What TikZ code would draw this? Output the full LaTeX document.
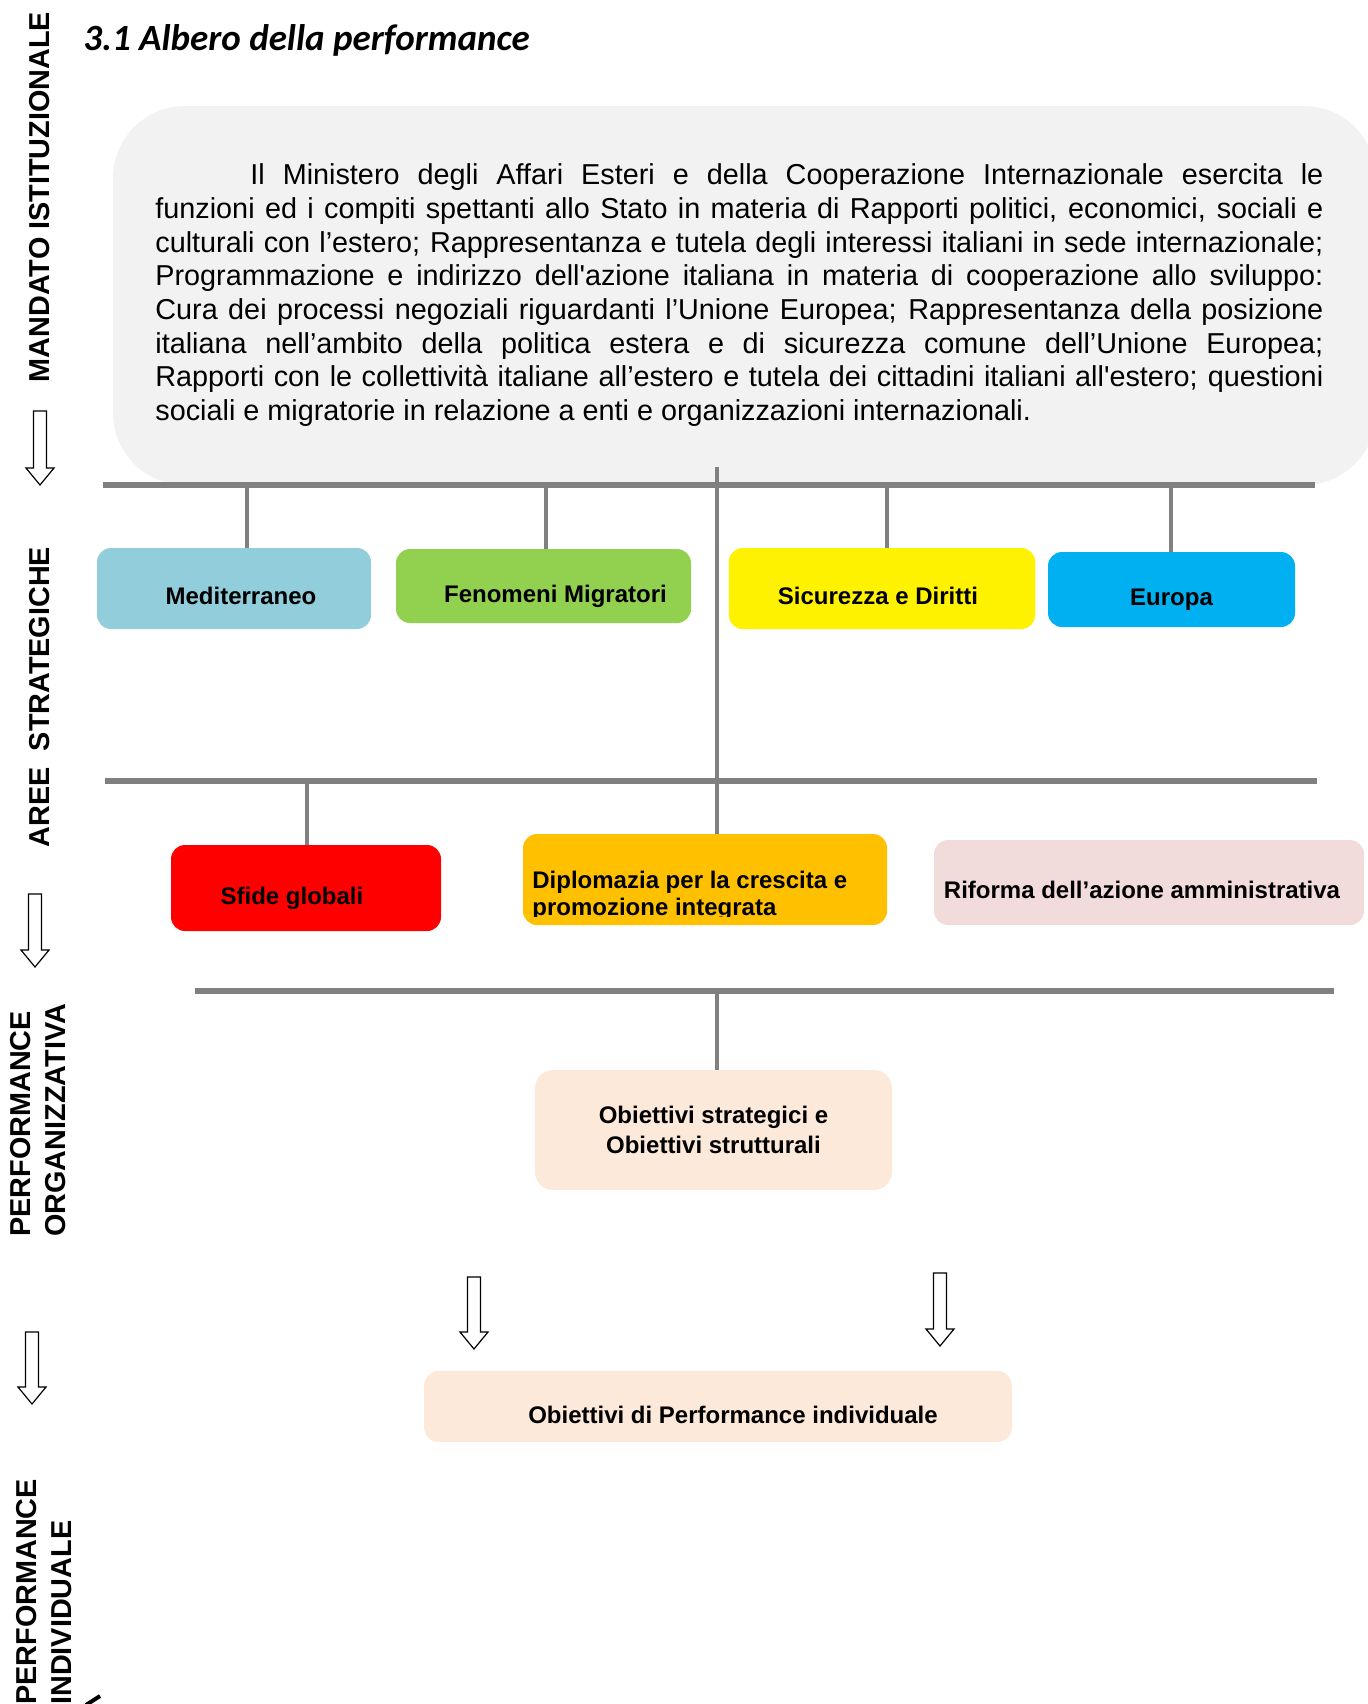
\documentclass[tikz,border=0pt]{standalone}
\usepackage{fontspec}
\setmainfont{Liberation Sans}[Ligatures=TeXOff]
\newfontfamily\titlefont{Carlito}

\definecolor{linegray}{RGB}{128,128,128}
\definecolor{boxgray}{RGB}{242,242,242}
\definecolor{medblue}{RGB}{146,205,220}
\definecolor{migrgreen}{RGB}{146,208,80}
\definecolor{eurblue}{RGB}{0,176,240}
\definecolor{diplorange}{RGB}{255,192,0}
\definecolor{rifpink}{RGB}{242,220,219}
\definecolor{goalpeach}{RGB}{253,233,217}

% outlined block arrow pointing down: x, top, tip
\newcommand{\hollowarrow}[3]{%
	\draw [line width = 0.6pt] (#1-6.5, #2) -- (#1+6.5, #2) -- (#1+6.5, #3-17) -- (#1+14, #3-17)
		-- (#1, #3) -- (#1-14, #3-17) -- (#1-6.5, #3-17) -- cycle;}

\begin{document}
\begin{tikzpicture}[x = 0.5pt, y = -0.5pt,
	bar/.style = {line width = 2.6pt, linegray},
	stub/.style = {line width = 2.2pt, linegray},
	area/.style = {rounded corners = 7pt, inner sep = 0pt, text height = 16pt, text depth = 0pt,
		font = \bfseries\fontsize{12}{14}\selectfont},
	goal/.style = {fill = goalpeach, rounded corners = 9pt, inner sep = 0pt,
		font = \bfseries\fontsize{12}{15}\selectfont},
	side/.style = {rotate = 90, inner sep = 0pt, font = \bfseries\fontsize{14.4}{17.25}\selectfont}]

	\useasboundingbox (0, 0) rectangle (1368, 1704);

	% Title

	\node [anchor = base west, inner sep = 0pt, font = \titlefont\bfseries\itshape\fontsize{18.5}{22}\selectfont]
		(title) at (83, 50) {3.1 Albero della performance};

	% Mandate

	\node [fill = boxgray, rounded corners = 36pt, minimum width = 631.5pt, minimum height = 189.5pt,
		inner sep = 0pt] (mandato) at (744.5, 295.5) {};

	\node [anchor = north west, inner sep = 0pt, text width = 584pt, align = justify,
		font = \fontsize{14.4}{16.85}\selectfont] (mandtxt) at (155, 163.5)
	{\hyphenpenalty = 10000 \hspace*{47.5pt}Il Ministero degli Affari Esteri e della Cooperazione Internazionale esercita le\linebreak
	funzioni ed i compiti spettanti allo Stato in materia di Rapporti politici, economici, sociali e\linebreak
	culturali con l’estero; Rappresentanza e tutela degli interessi italiani in sede internazionale;\linebreak
	Programmazione e indirizzo dell'azione italiana in materia di cooperazione allo sviluppo:\linebreak
	Cura dei processi negoziali riguardanti l’Unione Europea; Rappresentanza della posizione\linebreak
	italiana nell’ambito della politica estera e di sicurezza comune dell’Unione Europea;\linebreak
	Rapporti con le collettività italiane all’estero e tutela dei cittadini italiani all'estero; questioni\linebreak
	sociali e migratorie in relazione a enti e organizzazioni internazionali.};

	% Areas

	\node [area, fill = medblue, minimum width = 137pt, minimum height = 40.5pt] (med) at (234, 588.5) {\hspace*{7pt}Mediterraneo};
	\node [area, fill = migrgreen, minimum width = 147.5pt, minimum height = 37pt] (fen) at (543.5, 586) {\hspace*{12pt}Fenomeni Migratori};
	\node [area, fill = yellow, minimum width = 153.25pt, minimum height = 40.5pt] (sic) at (882, 588.5) {\hspace*{-4pt}Sicurezza e Diritti};
	\node [area, fill = eurblue, minimum width = 123.5pt, minimum height = 37.5pt] (eur) at (1171.5, 589.5) {Europa};

	\node [area, fill = red, minimum width = 135pt, minimum height = 43pt] (sfi) at (306, 888) {\hspace*{-14pt}Sfide globali};
	\node [area, fill = diplorange, minimum width = 182pt, minimum height = 45.5pt] (dip) at (705, 879.5) {};
	\node [area, fill = rifpink, minimum width = 215pt, minimum height = 42.5pt] (rif) at (1149, 882.5) {\hspace*{-7pt}Riforma dell’azione amministrativa};

	\begin{scope}
		\clip (523, 834) rectangle (887, 916);
		\node [anchor = north west, inner sep = 0pt, align = left, font = \bfseries\fontsize{12}{13.5}\selectfont]
			(diptxt) at (532, 871) {Diplomazia per la crescita e\\promozione integrata};
	\end{scope}

	% Goals

	\node [goal, align = center, minimum width = 178.5pt, minimum height = 60pt] (obs) at (713.5, 1130) {Obiettivi strategici e\\Obiettivi strutturali};
	\node [goal, rounded corners = 7.5pt, text height = 17pt, text depth = 0pt, minimum width = 294pt, minimum height = 35.5pt]
		(obi) at (718, 1406.5) {\hspace*{15pt}Obiettivi di Performance individuale};

	% Bars and stubs

	\coordinate (bar1w) at (103, 485);
	\coordinate (bar1e) at (1315, 485);
	\coordinate (bar2w) at (105, 781);
	\coordinate (bar2e) at (1317, 781);
	\coordinate (bar3w) at (195, 991);
	\coordinate (bar3e) at (1334, 991);

	\draw [bar] (bar1w) -- (bar1e);
	\draw [bar] (bar2w) -- (bar2e);
	\draw [bar] (bar3w) -- (bar3e);

	\coordinate (s1) at (247, 485);
	\coordinate (s2) at (546, 485);
	\coordinate (s3) at (887, 485);
	\coordinate (s4) at (1171, 485);
	\coordinate (s5) at (307, 781);
	\coordinate (spine) at (717, 467);
	\coordinate (s6) at (717, 991);

	\draw [stub] (s1) -- (s1 |- med.north);
	\draw [stub] (s2) -- (s2 |- fen.north);
	\draw [stub] (s3) -- (s3 |- sic.north);
	\draw [stub] (s4) -- (s4 |- eur.north);
	\draw [stub] (s5) -- (s5 |- sfi.north);
	\draw [stub] (spine) -- (spine |- dip.north);
	\draw [stub] (s6) -- (s6 |- obs.north);

	% Side labels

	\node [side] (lmand) at (40, 197) {MANDATO ISTITUZIONALE};
	\node [side] (laree) at (40, 697) {AREE\ \ STRATEGICHE};
	\node [side, anchor = west, align = left] (lorg) at (38, 1237) {PERFORMANCE\\ORGANIZZATIVA};
	\node [side, anchor = west, align = left] (lind) at (44, 1705) {PERFORMANCE\\INDIVIDUALE};
	\draw [line width = 2pt] (86, 1705) -- (100, 1696);

	% Arrows

	\hollowarrow{40}{411}{485}
	\hollowarrow{35}{894}{967}
	\hollowarrow{32}{1332}{1404}
	\hollowarrow{474}{1277}{1349}
	\hollowarrow{940}{1273}{1346}

\end{tikzpicture}
\end{document}
